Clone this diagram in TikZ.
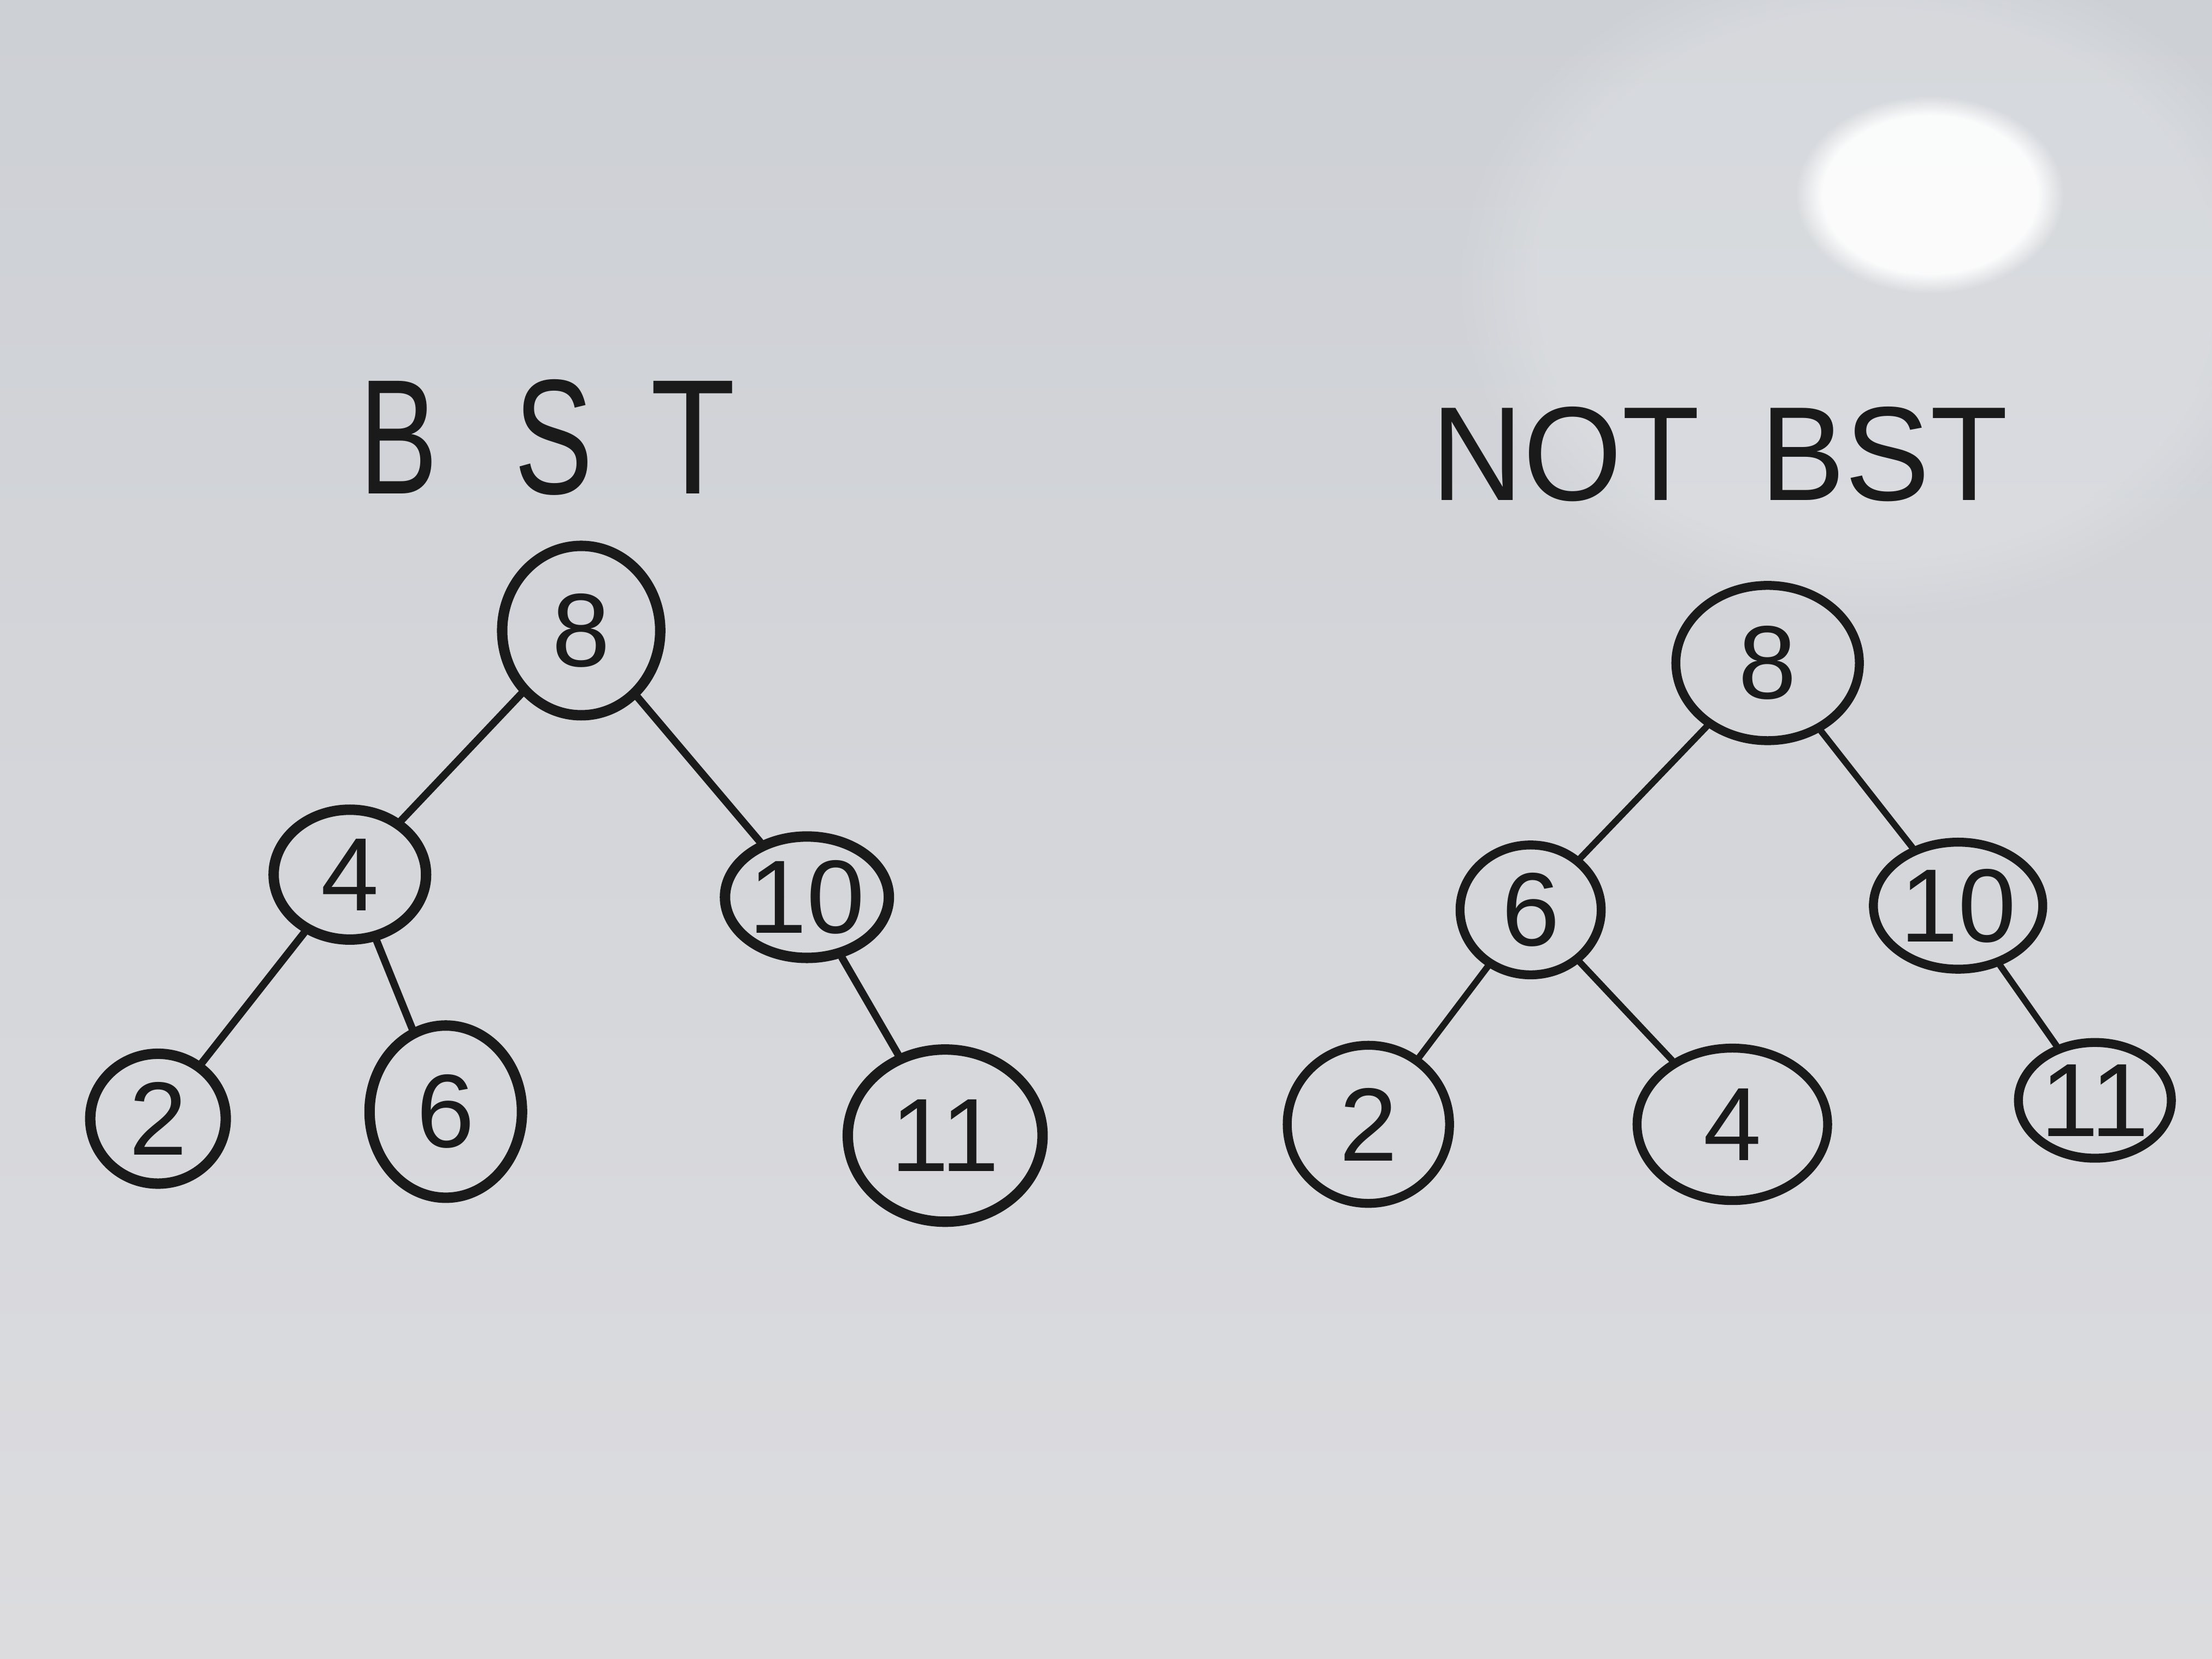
\documentclass[tikz,border=0pt]{standalone}
\usepackage{fontspec}
\setmainfont{Liberation Sans}
\usetikzlibrary{shapes.geometric,fadings}
\definecolor{boardtop}{HTML}{CDD0D5}
\definecolor{boardbot}{HTML}{DCDCDF}
\definecolor{ink}{HTML}{1A1A1A}
\tikzset{
  bnode/.style={ellipse, draw=ink, line width=2.1pt, inner sep=0pt, text=ink, font=\fontsize{21}{21}\selectfont},
  bedge/.style={draw=ink, line width=1.5pt, line cap=round},
  btitle/.style={text=ink, inner sep=0pt}
}
\begin{document}
\begin{tikzpicture}[x=0.01cm,y=-0.01cm]
\useasboundingbox (0,0) rectangle (1568,1176);
% board background
\shade[top color=boardtop, bottom color=boardbot] (0,0) rectangle (1568,1176);
\fill[white, opacity=0.18, path fading=circle with fuzzy edge 20 percent] (1330,200) ellipse (300 and 240);
\fill[white, opacity=0.9, path fading=circle with fuzzy edge 20 percent] (1368,138) ellipse (95 and 70);
% titles
\node[btitle, font=\fontsize{33}{33}\selectfont] (t1) at (388,310) {\scalebox{0.72}[1]{B}\hspace{0.47em}\scalebox{0.72}[1]{S}\hspace{0.35em}\scalebox{0.85}[1]{T}};
\node[btitle, font=\fontsize{27}{27}\selectfont] (t2) at (1219,322) {\scalebox{0.95}[1]{NOT}\hspace{0.45em}\scalebox{0.95}[1]{BST}};
% left tree (BST)
\node[bnode, minimum width=1.12cm, minimum height=1.20cm] (l8) at (412,447) {8};
\node[bnode, minimum width=1.08cm, minimum height=0.92cm] (l4) at (248,620) {4};
\node[bnode, minimum width=1.16cm, minimum height=0.86cm] (l10) at (572,636) {10};
\node[bnode, minimum width=0.96cm, minimum height=0.92cm] (l2) at (112,793) {2};
\node[bnode, minimum width=1.08cm, minimum height=1.22cm] (l6) at (316,788) {6};
\node[bnode, minimum width=1.38cm, minimum height=1.22cm] (l11) at (670,805) {11};
\draw[bedge] (l8) -- (l4);
\draw[bedge] (l8) -- (l10);
\draw[bedge] (l4) -- (l2);
\draw[bedge] (l4) -- (l6);
\draw[bedge] (l10) -- (l11);
% right tree (NOT BST)
\begin{scope}[bnode/.append style={line width=1.8pt}, bedge/.append style={line width=1.3pt}]
\node[bnode, minimum width=1.30cm, minimum height=1.10cm] (r8) at (1253,470) {8};
\node[bnode, minimum width=1.00cm, minimum height=0.92cm] (r6) at (1085,645) {6};
\node[bnode, minimum width=1.20cm, minimum height=0.90cm] (r10) at (1388,642) {10};
\node[bnode, minimum width=1.15cm, minimum height=1.12cm] (r2) at (970,797) {2};
\node[bnode, minimum width=1.35cm, minimum height=1.08cm] (r4) at (1228,797) {4};
\node[bnode, minimum width=0.92cm, minimum height=0.82cm] (r11) at (1485,780) {11};
\draw[bedge] (r8) -- (r6);
\draw[bedge] (r8) -- (r10);
\draw[bedge] (r6) -- (r2);
\draw[bedge] (r6) -- (r4);
\draw[bedge] (r10) -- (r11);
\end{scope}
\end{tikzpicture}
\end{document}
